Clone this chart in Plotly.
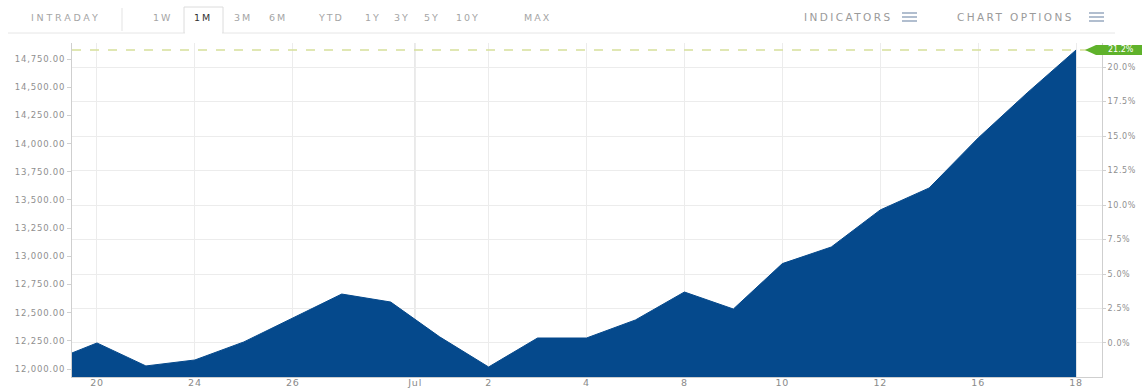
import plotly.graph_objects as go

# ---- data ----
dates = ["Jun 19", "Jun 20", "Jun 21", "Jun 24", "Jun 25", "Jun 26", "Jun 27", "Jun 28",
         "Jul 1", "Jul 2", "Jul 3", "Jul 4", "Jul 5", "Jul 8", "Jul 9", "Jul 10",
         "Jul 11", "Jul 12", "Jul 15", "Jul 16", "Jul 17", "Jul 18"]
values = [12057, 12231, 12027, 12080, 12240, 12452, 12665, 12594,
          12285, 12018, 12275, 12275, 12435, 12683, 12532, 12935,
          13082, 13411, 13606, 14049, 14449, 14830]
tick_pos = [1, 3, 5, 7.5, 9, 11, 13, 15, 17, 19, 21]
tick_text = ["20", "24", "26", "Jul", "2", "4", "8", "10", "12", "16", "18"]
left_ticks = [12000, 12250, 12500, 12750, 13000, 13250, 13500, 13750, 14000, 14250, 14500, 14750]
pct_ticks = [0.0, 2.5, 5.0, 7.5, 10.0, 12.5, 15.0, 17.5, 20.0]
periods = ["1W", "1M", "3M", "6M", "YTD", "1Y", "3Y", "5Y", "10Y", "MAX"]
period_x = [162, 203, 243, 278, 331, 373, 402, 432, 468, 537]

x_idx = list(range(len(values)))
base = values[1]
last = values[-1]
last_pct = (last / base - 1) * 100

y_lo, y_hi = 11929, 14892
x_lo, x_hi = 0.49, 21.53

# layout geometry (pixels)
W_FIG, H_FIG = 1142, 390
PL, PR, PT, PB = 72, 1102, 43, 377


def px_x(p):
    return (p - PL) / (PR - PL)


def px_y(p):
    return (PB - p) / (PB - PT)


def spaced(s, sp=1.0):
    return f'<span style="letter-spacing:{sp}px">{s}</span>'


BLUE = "#05498c"
GRID = "#ececec"
AXIS = "#cfcfcf"
TXT = "#9a9a9a"
FONT = "DejaVu Sans"

fig = go.Figure()
fig.add_trace(go.Scatter(
    x=x_idx, y=values, mode="lines", fill="tozeroy",
    line=dict(color=BLUE, width=1), fillcolor=BLUE,
    text=dates, hoverinfo="text+y", showlegend=False,
))
# invisible trace on the percent axis
fig.add_trace(go.Scatter(
    x=[x_idx[-1]], y=[last_pct], yaxis="y2", mode="markers",
    marker=dict(opacity=0), hoverinfo="skip", showlegend=False,
))

shapes = []
annotations = []

# last-value dashed line
shapes.append(dict(type="line", xref="paper", yref="y", x0=0, x1=1, y0=last, y1=last,
                   line=dict(color="#d6df9a", width=1.3, dash="dash"), layer="above"))
# darker month boundary gridline
for p, t in zip(tick_pos, tick_text):
    if not t.isdigit():
        shapes.append(dict(type="line", xref="x", yref="paper", x0=p, x1=p, y0=0, y1=1,
                           line=dict(color="#cccccc", width=1.2), layer="below"))

# green flag with last percent change
shapes.append(dict(type="path", xref="paper", yref="y", xsizemode="pixel", ysizemode="pixel",
                   xanchor=1, yanchor=last,
                   path="M -17,0 L -6,5 L 40,5 L 40,-5 L -6,-5 Z",
                   fillcolor="#5fb22b", line=dict(width=0), layer="above"))
annotations.append(dict(xref="paper", yref="y", x=1, y=last, xshift=19,
                        text=f"{last_pct:.1f}%", showarrow=False,
                        font=dict(family=FONT, size=8, color="white"),
                        xanchor="center", yanchor="middle"))

# toolbar
shapes.append(dict(type="line", xref="paper", yref="paper",
                   x0=px_x(8), x1=px_x(1115), y0=px_y(33), y1=px_y(33),
                   line=dict(color="#e6e6e6", width=1)))
shapes.append(dict(type="line", xref="paper", yref="paper",
                   x0=px_x(122), x1=px_x(122), y0=px_y(8), y1=px_y(31),
                   line=dict(color="#e3e3e3", width=1)))
# selected tab box
shapes.append(dict(type="path", xref="paper", yref="paper",
                   path=(f"M {px_x(184)},{px_y(33)} L {px_x(184)},{px_y(7)} "
                         f"L {px_x(223)},{px_y(7)} L {px_x(223)},{px_y(33)}"),
                   line=dict(color="#dcdcdc", width=1)))
shapes.append(dict(type="line", xref="paper", yref="paper",
                   x0=px_x(185), x1=px_x(222), y0=px_y(33), y1=px_y(33),
                   line=dict(color="white", width=2)))

annotations.append(dict(xref="paper", yref="paper", x=px_x(66), y=px_y(18),
                        text=spaced("INTRADAY", 2.8), showarrow=False,
                        font=dict(family=FONT, size=9.5, color="#a5a5a5"),
                        xanchor="center", yanchor="middle"))
for lab, cx in zip(periods, period_x):
    annotations.append(dict(xref="paper", yref="paper", x=px_x(cx), y=px_y(18),
                            text=spaced(lab, 2.0), showarrow=False,
                            font=dict(family=FONT, size=9.5,
                                      color="#333333" if lab == "1M" else "#a5a5a5"),
                            xanchor="center", yanchor="middle"))
for lab, x0 in (("INDICATORS", 802), ("CHART OPTIONS", 955)):
    annotations.append(dict(xref="paper", yref="paper", x=px_x(x0), y=px_y(17),
                            text=spaced(lab, 2.4), showarrow=False,
                            font=dict(family=FONT, size=10.5, color="#9a9a9a"),
                            xanchor="left", yanchor="middle"))
for hx in (902, 1089):
    for dy in (13, 17, 21):
        shapes.append(dict(type="line", xref="paper", yref="paper",
                           x0=px_x(hx), x1=px_x(hx + 15), y0=px_y(dy), y1=px_y(dy),
                           line=dict(color="#97a8bf", width=1.5)))

left_text = [spaced(f"{v:,.2f}", 0.8) for v in left_ticks]
pct_text = [spaced(f"{v:.1f}%", 0.6) for v in pct_ticks]
x_text = [spaced(t, 0.8) for t in tick_text]

fig.update_layout(
    width=W_FIG, height=H_FIG,
    margin=dict(l=PL, r=W_FIG - PR, t=PT, b=H_FIG - PB, pad=0),
    paper_bgcolor="white", plot_bgcolor="white",
    font=dict(family=FONT, size=9, color=TXT),
    showlegend=False,
    xaxis=dict(range=[x_lo, x_hi], tickmode="array", tickvals=tick_pos, ticktext=x_text,
               showgrid=True, gridcolor=GRID, gridwidth=1, zeroline=False,
               showline=True, linecolor=AXIS, ticks="", automargin=False,
               ticklabelstandoff=-3,
               tickfont=dict(family=FONT, size=9.5, color="#8a8a8a")),
    yaxis=dict(range=[y_lo, y_hi], tickmode="array", tickvals=left_ticks, ticktext=left_text,
               showgrid=False, zeroline=False,
               showline=True, linecolor=AXIS, ticks="outside", ticklen=4,
               tickcolor="#d0d0d0", automargin=False,
               tickfont=dict(family=FONT, size=8.5, color="#8f8f8f")),
    yaxis2=dict(overlaying="y", side="right",
                range=[(y_lo / base - 1) * 100, (y_hi / base - 1) * 100],
                tickmode="array", tickvals=pct_ticks, ticktext=pct_text,
                showgrid=True, gridcolor=GRID, zeroline=False,
                showline=True, linecolor=AXIS, ticks="outside", ticklen=3,
                tickcolor="#d0d0d0", automargin=False,
                tickfont=dict(family=FONT, size=8, color="#8f8f8f")),
    shapes=shapes, annotations=annotations,
)

fig.write_html("out.html", config={"displayModeBar": False},
               post_script="document.body.style.margin='0';document.body.style.padding='0';")
